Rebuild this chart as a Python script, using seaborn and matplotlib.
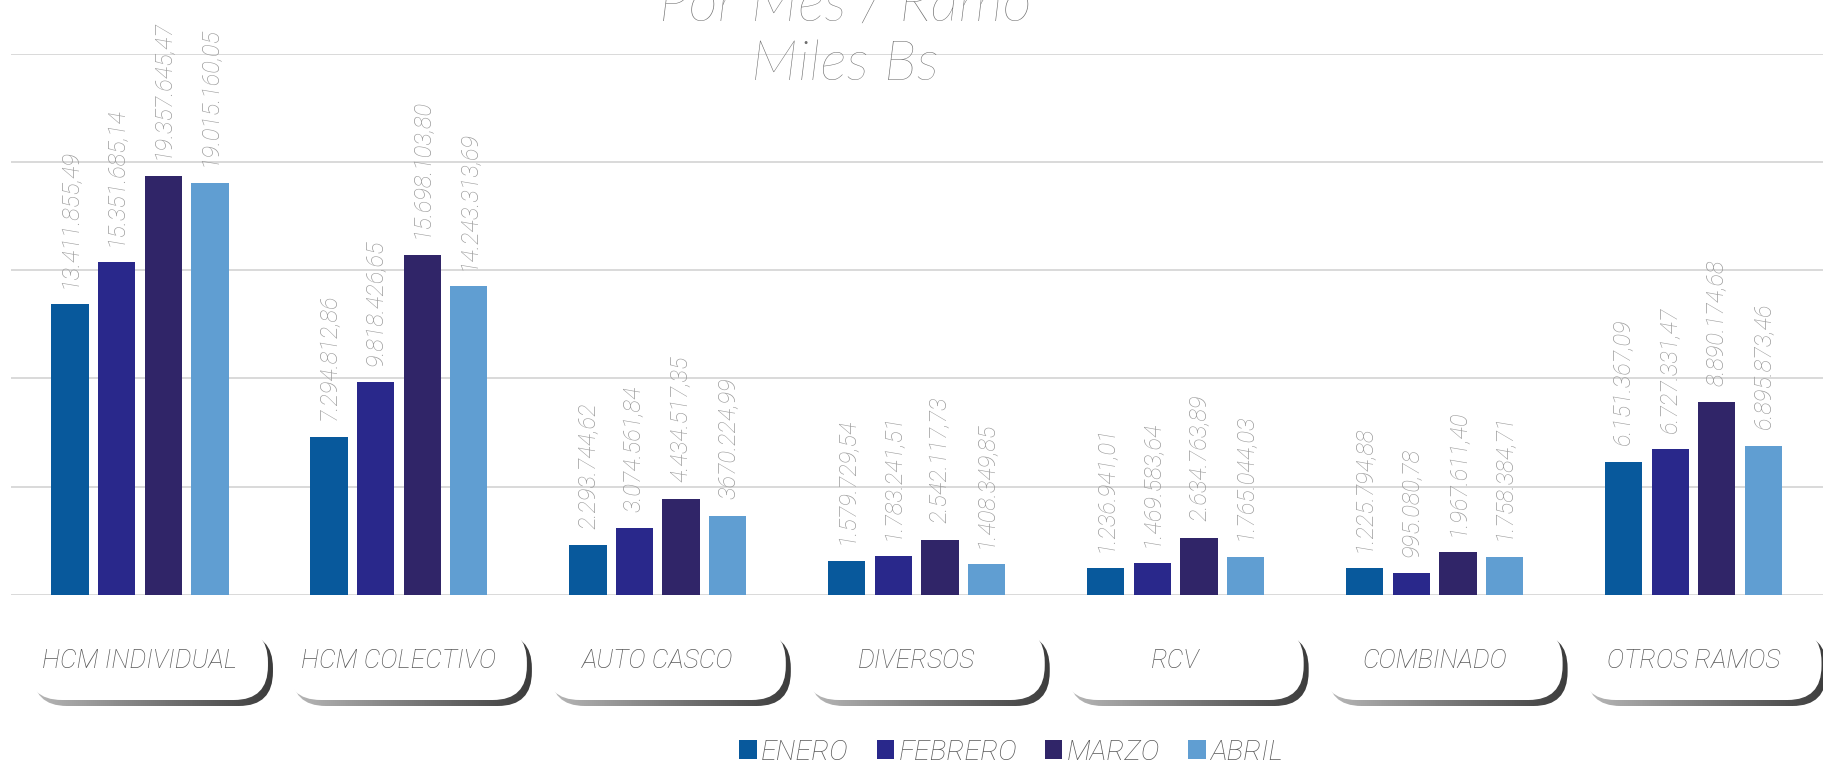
import numpy as np
import pandas as pd
import matplotlib
matplotlib.use('Agg')
import matplotlib.pyplot as plt
import seaborn as sns
from matplotlib.patches import FancyBboxPatch, Patch
from matplotlib.colors import LinearSegmentedColormap


# data as shown on the chart (Miles Bs)
ramos = ['HCM INDIVIDUAL', 'HCM COLECTIVO', 'AUTO CASCO', 'DIVERSOS', 'RCV', 'COMBINADO', 'OTROS RAMOS']
meses = ['ENERO', 'FEBRERO', 'MARZO', 'ABRIL']

enero = ['13.411.855,49', '7.294.812,86', '2.293.744,62', '1.579.729,54', '1.236.941,01', '1.225.794,88', '6.151.367,09']
febrero = ['15.351.685,14', '9.818.426,65', '3.074.561,84', '1.783.241,51', '1.469.583,64', '995.080,78', '6.727.331,47']
marzo = ['19.357.645,47', '15.698.103,80', '4.434.517,35', '2.542.117,73', '2.634.763,89', '1.967.611,40', '8.890.174,68']
abril = ['19.015.160,05', '14.243.313,69', '3670.224,99', '1.408.349,85', '1.765.044,03', '1.758.384,71', '6.895.873,46']

colores = ['#08599c', '#29288b', '#302568', '#609ed2']


def to_num(s):
    return float(s.replace('.', '').replace(',', '.'))


etiquetas = [enero, febrero, marzo, abril]
rows = []
for mes, vals in zip(meses, etiquetas):
    for ramo, v in zip(ramos, vals):
        rows.append({'ramo': ramo, 'mes': mes, 'valor': to_num(v)})
df = pd.DataFrame(rows)

W, H = 1823, 765
fig = plt.figure(figsize=(W / 100, H / 100), dpi=100)
fig.patch.set_facecolor('white')

FAM = ['Roboto', 'DejaVu Sans']
lbl_font = dict(family=FAM, style='italic', weight='light')

ax = fig.add_axes([10.5 / W, 170 / H, 1 - 10.5 / W, (595 - 53.5) / H])
sns.barplot(data=df, x='ramo', y='valor', hue='mes', order=ramos, hue_order=meses,
            palette=colores, saturation=1, width=0.72, gap=0.2, errorbar=None,
            legend=False, linewidth=0, ax=ax)

ax.set_xlim(-0.5, len(ramos) - 0.5)
ax.set_ylim(0, 25e6)
ax.set_yticks(np.arange(0, 25e6 + 1, 5e6))
ax.grid(axis='y', color='#d9d9d9', linewidth=1.4)
ax.set_axisbelow(True)
for s in ax.spines.values():
    s.set_visible(False)
ax.tick_params(length=0, labelbottom=False, labelleft=False)
ax.set_xlabel('')
ax.set_ylabel('')

# value labels
for cont, labs in zip(ax.containers, etiquetas):
    ax.bar_label(cont, labels=labs, rotation=90, padding=12, color='#9c9c9c',
                 fontsize=17, clip_on=False, **lbl_font)

# title (partly cut at the top, as in the original)
fig.text(845 / W, (H - 21) / H, 'Por Mes / Ramo', ha='center', va='baseline',
         fontsize=41, color='#6e6e6e', family=['Lato', 'DejaVu Sans'], style='italic', weight='light')
fig.text(845 / W, (H - 80) / H, 'Miles Bs', ha='center', va='baseline',
         fontsize=41, color='#6e6e6e', family=['Lato', 'DejaVu Sans'], style='italic', weight='light')

# category tabs below the axis, drawn in pixel space
ov = fig.add_axes([0, 0, 1, 1], zorder=3)
ov.set_xlim(0, W)
ov.set_ylim(0, H)
ov.axis('off')

grad_cmap = LinearSegmentedColormap.from_list('sombra', ['#b8b8b8', '#3c3c3c'])
grad = np.linspace(0, 1, 256).reshape(1, -1)

tab_w, tab_h, rad = 240, 72, 34
for i, ramo in enumerate(ramos):
    cx = ax.transData.transform((i, 0))[0]
    x0 = cx + 8 - tab_w / 2
    y0 = H - 700
    sh = FancyBboxPatch((x0 + 5, y0 - 6), tab_w, tab_h,
                        boxstyle=f'round,pad=0,rounding_size={rad}',
                        fc='none', ec='none', transform=ov.transData)
    ov.add_patch(sh)
    im = ov.imshow(grad, cmap=grad_cmap, aspect='auto', zorder=1,
                   extent=(x0 + 5, x0 + 5 + tab_w, y0 - 6, y0 - 6 + tab_h))
    im.set_clip_path(sh)
    ov.add_patch(FancyBboxPatch((x0, y0), tab_w, tab_h,
                                boxstyle=f'round,pad=0,rounding_size={rad}',
                                fc='white', ec='none', zorder=2))
    ov.text(cx, H - 661, ramo, ha='center', va='center', fontsize=19,
            color='#595959', zorder=3, **lbl_font)
ov.set_xlim(0, W)
ov.set_ylim(0, H)

# legend
handles = [Patch(facecolor=c, edgecolor='none', label=m) for m, c in zip(meses, colores)]
fig.legend(handles=handles, loc='center', bbox_to_anchor=(1011 / W, 13 / H), ncol=4,
           frameon=False, handlelength=0.6, handleheight=0.6, handletextpad=0.15,
           columnspacing=1.0, labelcolor='#595959',
           prop=dict(family=FAM, style='italic', weight='light', size=20.5))

fig.savefig('out.png', dpi=100, facecolor='white')
